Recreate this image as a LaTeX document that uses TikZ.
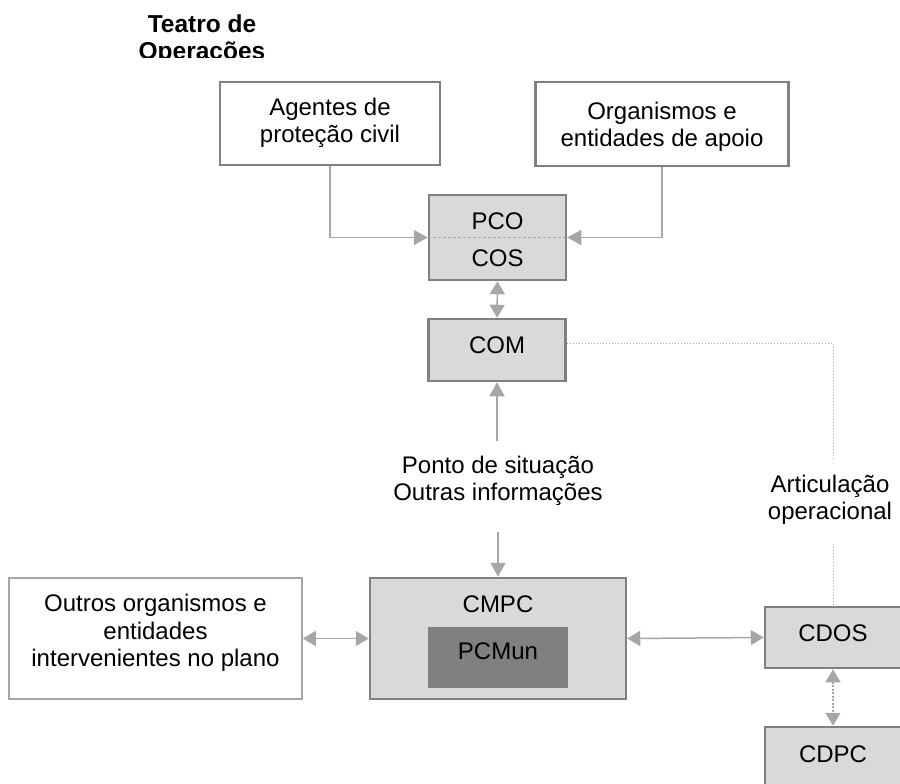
\documentclass[tikz,border=0pt]{standalone}
\usepackage{fontspec}
\setmainfont{Liberation Sans}
\usetikzlibrary{arrows.meta}
\definecolor{bord}{HTML}{808080}
\definecolor{boxfill}{HTML}{D9D9D9}
\definecolor{inner}{HTML}{808080}
\definecolor{arrg}{HTML}{A6A6A6}
\definecolor{lightb}{HTML}{A6A6A6}
\begin{document}
\begin{tikzpicture}[x=1pt,y=-1pt,
  every node/.style={font=\fontsize{24}{27.5}\selectfont, inner sep=0pt, align=center},
  whitebox/.style={draw=bord, line width=2.5pt, fill=white, rectangle},
  thinbox/.style={draw=lightb, line width=1.6pt, fill=white, rectangle},
  graybox/.style={draw=bord, line width=2.5pt, fill=boxfill, rectangle},
  innerbox/.style={fill=inner, rectangle},
  txt/.style={text=black},
  arr/.style={draw=arrg, line width=1.5pt, -{Triangle[length=14pt,width=15pt]}},
  darr/.style={draw=arrg, line width=1.5pt, {Triangle[length=13pt,width=15pt]}-{Triangle[length=13pt,width=15pt]}},
  dotline/.style={draw=arrg, line width=1pt, dotted},
  dashline/.style={draw=arrg, line width=1.2pt, dash pattern=on 3pt off 2pt}
]
\useasboundingbox (0,0) rectangle (900,784);
\clip (0,0) rectangle (900,784);

% title (clipped at the bottom as in the reference)
\begin{scope}
  \clip (0,0) rectangle (900,58);
  \node[font=\bfseries\fontsize{24.5}{26.5}\selectfont] (title) at (202,39.5) {Teatro de\\Operações};
\end{scope}

% top boxes
\node[whitebox, minimum width=220pt, minimum height=83pt] (ag) at (330,123.5) {};
\node[txt] (agt) at (330,123) {Agentes de\\proteção civil};
\node[whitebox, minimum width=253pt, minimum height=84pt] (org) at (662,124) {};
\node[txt] (orgt) at (662,127) {Organismos e\\entidades de apoio};

% PCO / COS
\node[graybox, minimum width=137pt, minimum height=85pt] (pco) at (497.5,237.5) {};
\node[txt] (pcot) at (497.5,221) {PCO};
\node[txt] (cost) at (497.5,258) {COS};

% COM
\node[graybox, minimum width=137pt, minimum height=62pt] (com) at (497,350) {};
\node[txt] (comt) at (497,345) {COM};

% CMPC
\node[graybox, minimum width=256pt, minimum height=121pt] (cmpc) at (498,638.5) {};
\node[txt] (cmpct) at (498,604) {CMPC};
\node[innerbox, minimum width=140pt, minimum height=61pt] (pcmun) at (498,657.5) {};
\node[txt] (pcmunt) at (498,651) {PCMun};

% Outros
\node[thinbox, minimum width=293pt, minimum height=121pt] (out) at (155.5,638.5) {};
\node[txt] (outt) at (155.5,633) {Outros organismos e\\entidades\\intervenientes no plano};

% CDOS / CDPC
\node[graybox, minimum width=136pt, minimum height=61pt] (cdos) at (833,637.5) {};
\node[txt] (cdost) at (833,633) {CDOS};
\node[graybox, minimum width=136pt, minimum height=70pt] (cdpc) at (833,762) {};
\node[txt] (cdpct) at (833,754) {CDPC};

% labels
\node[txt] (ponto) at (498,481) {Ponto de situação\\Outras informações};
\node[txt] (artic) at (830,500) {Articulação\\operacional};

% coordinates for free ends
\coordinate (c1) at (497,441);
\coordinate (c2) at (498,532);
\coordinate (c3) at (833,459);
\coordinate (c4) at (833,544);

% connectors
\draw[dashline] (pco.west) -- (pco.east);
\draw[arr] (ag.south) |- (pco.west);
\draw[arr] (org.south) |- (pco.east);
\draw[darr] (pco.south) -- (com.north);
\draw[arr] (c1) -- (com.south);
\draw[arr] (c2) -- (cmpc.north);
\draw[dotline] ([yshift=7pt]com.east) -| (c3);
\draw[dotline] (c4) -- (cdos.north);
\draw[darr] (out.east) -- (cmpc.west);
\draw[darr] (cmpc.east) -- (cdos.west);
\draw[darr, dash pattern=on 2pt off 1.5pt] (cdos.south) -- (cdpc.north);
\end{tikzpicture}
\end{document}
